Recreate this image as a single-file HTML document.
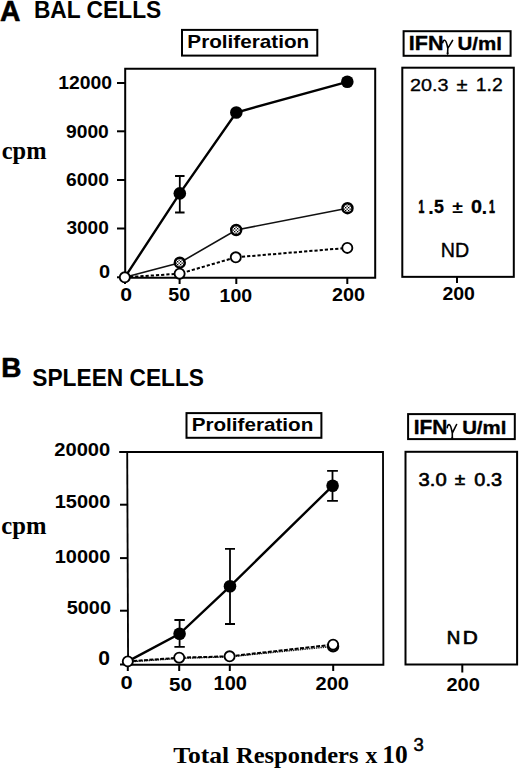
<!DOCTYPE html>
<html><head><meta charset="utf-8"><title>Figure</title>
<style>html,body{margin:0;padding:0;background:#fff;} svg{display:block;}</style>
</head><body>
<svg width="520" height="770" viewBox="0 0 520 770">
<defs><pattern id="hatch" width="3" height="3" patternUnits="userSpaceOnUse">
<rect width="3" height="3" fill="#fff"/><rect x="0" y="0" width="1.3" height="1.3" fill="#000"/><rect x="1.5" y="1.5" width="1.3" height="1.3" fill="#000"/></pattern></defs>
<rect width="520" height="770" fill="#fff"/>
<path d="M125.2,68.8 L375.2,68.8 L375.2,277.8 L125.2,277.8 Z" fill="none" stroke="#000" stroke-width="2.0"/>
<line x1="117" y1="83" x2="125.2" y2="83" stroke="#000" stroke-width="2.0"/>
<line x1="117" y1="131.3" x2="125.2" y2="131.3" stroke="#000" stroke-width="2.0"/>
<line x1="117" y1="180" x2="125.2" y2="180" stroke="#000" stroke-width="2.0"/>
<line x1="117" y1="228.5" x2="125.2" y2="228.5" stroke="#000" stroke-width="2.0"/>
<line x1="117" y1="277.3" x2="125.2" y2="277.3" stroke="#000" stroke-width="2.0"/>
<line x1="125" y1="277.8" x2="125" y2="284" stroke="#000" stroke-width="2.0"/>
<line x1="179.6" y1="277.8" x2="179.6" y2="284" stroke="#000" stroke-width="2.0"/>
<line x1="236.3" y1="277.8" x2="236.3" y2="284" stroke="#000" stroke-width="2.0"/>
<line x1="347.3" y1="277.8" x2="347.3" y2="284" stroke="#000" stroke-width="2.0"/>
<rect x="182" y="29.9" width="135.3" height="25.7" fill="none" stroke="#000" stroke-width="2.0"/>
<rect x="403.6" y="31.2" width="107" height="24.6" fill="none" stroke="#000" stroke-width="2.0"/>
<rect x="402.3" y="67.7" width="111.5" height="209.15" fill="none" stroke="#000" stroke-width="2.0"/>
<line x1="457" y1="276.9" x2="457" y2="283" stroke="#000" stroke-width="2.0"/>
<path d="M124.8,277.3 L179.8,262.7 L236.2,230 L347.5,208.2" fill="none" stroke="#111" stroke-width="1.6"/>
<path d="M124.8,277.3 L179.6,273.7 L235.8,257.3 L347.3,247.9" fill="none" stroke="#000" stroke-width="2" stroke-dasharray="3.2 2"/>
<path d="M124.8,277.3 L179.8,193.4 L236.3,112.5 L347.3,81.8" fill="none" stroke="#000" stroke-width="2.4"/>
<path d="M179.8,176 L179.8,212.5 M175.05,176 L184.55,176 M175.05,212.5 L184.55,212.5" stroke="#000" stroke-width="1.8" fill="none"/>
<circle cx="179.8" cy="262.7" r="5.0" fill="url(#hatch)" stroke="#000" stroke-width="2.4"/>
<circle cx="236.2" cy="230" r="5.0" fill="url(#hatch)" stroke="#000" stroke-width="2.4"/>
<circle cx="347.5" cy="208.2" r="5.0" fill="url(#hatch)" stroke="#000" stroke-width="2.4"/>
<circle cx="179.8" cy="193.4" r="6.3" fill="#000"/>
<circle cx="236.3" cy="112.5" r="6.3" fill="#000"/>
<circle cx="347.3" cy="81.8" r="6.3" fill="#000"/>
<circle cx="124.8" cy="277.3" r="5.05" fill="#fff" stroke="#000" stroke-width="1.85"/>
<circle cx="179.6" cy="273.7" r="5.05" fill="#fff" stroke="#000" stroke-width="1.85"/>
<circle cx="235.8" cy="257.3" r="5.05" fill="#fff" stroke="#000" stroke-width="1.85"/>
<circle cx="347.3" cy="247.9" r="5.05" fill="#fff" stroke="#000" stroke-width="1.85"/>
<path d="M119.2,452 L383,452 L383.4,664.7 L127.5,664.7" fill="none" stroke="#000" stroke-width="1.85"/>
<line x1="127.2" y1="451" x2="128.1" y2="665.6" stroke="#000" stroke-width="1.85"/>
<line x1="120" y1="504.7" x2="127.7" y2="504.7" stroke="#000" stroke-width="2.0"/>
<line x1="120" y1="558.1" x2="127.7" y2="558.1" stroke="#000" stroke-width="2.0"/>
<line x1="120" y1="610.7" x2="127.7" y2="610.7" stroke="#000" stroke-width="2.0"/>
<line x1="120" y1="664.5" x2="127.7" y2="664.5" stroke="#000" stroke-width="2.0"/>
<line x1="127.8" y1="664.8" x2="127.8" y2="671" stroke="#000" stroke-width="2.0"/>
<line x1="179.2" y1="664.8" x2="179.2" y2="671" stroke="#000" stroke-width="2.0"/>
<line x1="229.8" y1="664.8" x2="229.8" y2="671" stroke="#000" stroke-width="2.0"/>
<line x1="333.2" y1="664.8" x2="333.2" y2="671" stroke="#000" stroke-width="2.0"/>
<rect x="186.5" y="413.1" width="134.9" height="24.7" fill="none" stroke="#000" stroke-width="2.0"/>
<rect x="408.1" y="414.1" width="106.7" height="25" fill="none" stroke="#000" stroke-width="2.0"/>
<rect x="405.5" y="451.8" width="111.6" height="212.7" fill="none" stroke="#000" stroke-width="2.0"/>
<line x1="462.3" y1="663.9" x2="462.3" y2="672.5" stroke="#000" stroke-width="2.0"/>
<path d="M127.8,662.0 L179.2,658.4 L229.6,656.8 L333.1,646.4" fill="none" stroke="#222" stroke-width="1.4" stroke-dasharray="1.5 0.8"/>
<path d="M127.8,661.4 L179.2,657.7 L229.6,656.3 L333.1,644.6" fill="none" stroke="#000" stroke-width="2" stroke-dasharray="4 1.4"/>
<path d="M127.8,661.4 L179.6,633.8 L230,586.3 L332.6,485.8" fill="none" stroke="#000" stroke-width="2.4"/>
<path d="M179.6,620 L179.6,646.9 M174.4,620 L184.79999999999998,620 M174.4,646.9 L184.79999999999998,646.9" stroke="#000" stroke-width="1.8" fill="none"/>
<path d="M230,548.8 L230,624 M225.0,548.8 L235.0,548.8 M225.0,624 L235.0,624" stroke="#000" stroke-width="1.8" fill="none"/>
<path d="M332.5,470.8 L332.5,500.9 M327.1,470.8 L337.9,470.8 M327.1,500.9 L337.9,500.9" stroke="#000" stroke-width="1.8" fill="none"/>
<circle cx="333.1" cy="646.4" r="5.0" fill="url(#hatch)" stroke="#000" stroke-width="2.4"/>
<circle cx="179.6" cy="633.8" r="6.3" fill="#000"/>
<circle cx="230" cy="586.3" r="6.3" fill="#000"/>
<circle cx="332.6" cy="485.8" r="6.3" fill="#000"/>
<circle cx="127.8" cy="661.4" r="5.05" fill="#fff" stroke="#000" stroke-width="1.85"/>
<circle cx="179.2" cy="657.7" r="5.05" fill="#fff" stroke="#000" stroke-width="1.85"/>
<circle cx="229.6" cy="656.3" r="5.05" fill="#fff" stroke="#000" stroke-width="1.85"/>
<circle cx="333.1" cy="644.6" r="5.05" fill="#fff" stroke="#000" stroke-width="1.85"/>
<path d="M442.7,42.7 C442.9,41 443.8,40.2 444.7,40.3 C446,40.5 446.9,43.6 447.8,48.4 M452.6,40.4 C451.2,43 449,46.3 447.8,48.4 L447.6,53.6" fill="none" stroke="#000" stroke-width="1.6" stroke-linecap="round" stroke-linejoin="round"/>
<ellipse cx="447.6" cy="53.4" rx="0.9" ry="1.3" fill="#000"/>
<path d="M447.2,427.7 C447.4,425.6 448.3,424.5 449.2,424.6 C450.5,424.8 451.4,428 452.3,433.2 M456.6,424.5 C455.2,427.4 453.4,430.8 452.3,433.2 L452.3,438.2" fill="none" stroke="#000" stroke-width="1.6" stroke-linecap="round" stroke-linejoin="round"/>
<ellipse cx="452.3" cy="438" rx="0.9" ry="1.3" fill="#000"/>
<text transform="matrix(0.28333 0 0 0.28824 -14.117 -22.447)" x="50" y="150" font-family='"Liberation Sans", sans-serif' font-weight="bold" font-size="100" stroke="#000" stroke-width="2.10" stroke-linejoin="round">A</text>
<text transform="matrix(0.22792 0 0 0.23521 22.509 -17.717)" x="50" y="150" font-family='"Liberation Sans", sans-serif' font-weight="bold" font-size="100">BAL CELLS</text>
<text transform="matrix(0.20712 0 0 0.18243 176.994 20.753)" x="50" y="150" font-family='"Liberation Sans", sans-serif' font-weight="bold" font-size="100">Proliferation</text>
<text transform="matrix(0.21531 0 0 0.19493 398.103 20.386)" x="50" y="150" font-family='"Liberation Sans", sans-serif' font-weight="bold" font-size="100" stroke="#000" stroke-width="1.71" stroke-linejoin="round">IFN</text>
<text transform="matrix(0.20564 0 0 0.18851 447.159 21.459)" x="50" y="150" font-family='"Liberation Sans", sans-serif' font-weight="bold" font-size="100" stroke="#000" stroke-width="1.78" stroke-linejoin="round">U/ml</text>
<text transform="matrix(0.19366 0 0 0.18028 48.655 62.277)" x="50" y="150" font-family='"Liberation Sans", sans-serif' font-weight="bold" font-size="100">12000</text>
<text transform="matrix(0.19252 0 0 0.18732 56.404 109.814)" x="50" y="150" font-family='"Liberation Sans", sans-serif' font-weight="bold" font-size="100">9000</text>
<text transform="matrix(0.19252 0 0 0.19014 56.404 157.589)" x="50" y="150" font-family='"Liberation Sans", sans-serif' font-weight="bold" font-size="100">6000</text>
<text transform="matrix(0.19074 0 0 0.19014 56.881 205.389)" x="50" y="150" font-family='"Liberation Sans", sans-serif' font-weight="bold" font-size="100">3000</text>
<text transform="matrix(0.20000 0 0 0.19014 88.900 249.789)" x="50" y="150" font-family='"Liberation Sans", sans-serif' font-weight="bold" font-size="100">0</text>
<text transform="matrix(0.21277 0 0 0.18592 109.711 273.427)" x="50" y="150" font-family='"Liberation Sans", sans-serif' font-weight="bold" font-size="100">0</text>
<text transform="matrix(0.19712 0 0 0.18873 158.353 273.001)" x="50" y="150" font-family='"Liberation Sans", sans-serif' font-weight="bold" font-size="100">50</text>
<text transform="matrix(0.19554 0 0 0.18732 209.850 274.214)" x="50" y="150" font-family='"Liberation Sans", sans-serif' font-weight="bold" font-size="100">100</text>
<text transform="matrix(0.19750 0 0 0.18310 322.133 273.752)" x="50" y="150" font-family='"Liberation Sans", sans-serif' font-weight="bold" font-size="100">200</text>
<text transform="matrix(0.24413 0 0 0.25000 -10.439 121.450)" x="50" y="150" font-family='"Liberation Serif", serif' font-weight="bold" font-size="100">cpm</text>
<text transform="matrix(0.19757 0 0 0.17394 400.109 64.460)" x="50" y="150" font-family='"Liberation Sans", sans-serif' font-weight="normal" font-size="100" stroke="#000" stroke-width="1.88" stroke-linejoin="round">20.3</text>
<text transform="matrix(0.20102 0 0 0.17917 446.421 63.750)" x="50" y="150" font-family='"Liberation Sans", sans-serif' font-weight="normal" font-size="100" stroke="#000" stroke-width="1.84" stroke-linejoin="round">±</text>
<text transform="matrix(0.19405 0 0 0.17786 466.020 64.046)" x="50" y="150" font-family='"Liberation Sans", sans-serif' font-weight="normal" font-size="100" stroke="#000" stroke-width="1.88" stroke-linejoin="round">1.2</text>
<text transform="matrix(0.10426 0 0 0.18551 413.212 185.624)" x="50" y="150" font-family='"Liberation Sans", sans-serif' font-weight="bold" font-size="100" stroke="#000" stroke-width="3.45" stroke-linejoin="round">1</text>
<text transform="matrix(0.21429 0 0 0.20667 417.286 182.700)" x="50" y="150" font-family='"Liberation Sans", sans-serif' font-weight="bold" font-size="100">.</text>
<text transform="matrix(0.17800 0 0 0.18714 425.116 185.391)" x="50" y="150" font-family='"Liberation Sans", sans-serif' font-weight="bold" font-size="100" stroke="#000" stroke-width="1.64" stroke-linejoin="round">5</text>
<text transform="matrix(0.19412 0 0 0.16935 442.606 188.097)" x="50" y="150" font-family='"Liberation Sans", sans-serif' font-weight="bold" font-size="100">±</text>
<text transform="matrix(0.19787 0 0 0.18451 461.065 185.789)" x="50" y="150" font-family='"Liberation Sans", sans-serif' font-weight="bold" font-size="100" stroke="#000" stroke-width="1.57" stroke-linejoin="round">0</text>
<text transform="matrix(0.20714 0 0 0.20667 471.093 182.700)" x="50" y="150" font-family='"Liberation Sans", sans-serif' font-weight="bold" font-size="100">.</text>
<text transform="matrix(0.10638 0 0 0.18551 483.793 185.624)" x="50" y="150" font-family='"Liberation Sans", sans-serif' font-weight="bold" font-size="100" stroke="#000" stroke-width="3.43" stroke-linejoin="round">1</text>
<text transform="matrix(0.19697 0 0 0.20000 430.876 227.000)" x="50" y="150" font-family='"Liberation Sans", sans-serif' font-weight="normal" font-size="100" stroke="#000" stroke-width="2.02" stroke-linejoin="round">ND</text>
<text transform="matrix(0.19500 0 0 0.18169 432.665 272.865)" x="50" y="150" font-family='"Liberation Sans", sans-serif' font-weight="bold" font-size="100">200</text>
<text transform="matrix(0.27869 0 0 0.27536 -12.685 335.896)" x="50" y="150" font-family='"Liberation Sans", sans-serif' font-weight="bold" font-size="100" stroke="#000" stroke-width="2.17" stroke-linejoin="round">B</text>
<text transform="matrix(0.22724 0 0 0.24085 20.956 350.232)" x="50" y="150" font-family='"Liberation Sans", sans-serif' font-weight="bold" font-size="100">SPLEEN CELLS</text>
<text transform="matrix(0.20677 0 0 0.18243 181.314 404.053)" x="50" y="150" font-family='"Liberation Sans", sans-serif' font-weight="bold" font-size="100">Proliferation</text>
<text transform="matrix(0.20918 0 0 0.19493 403.252 404.386)" x="50" y="150" font-family='"Liberation Sans", sans-serif' font-weight="bold" font-size="100" stroke="#000" stroke-width="1.73" stroke-linejoin="round">IFN</text>
<text transform="matrix(0.20417 0 0 0.19122 451.942 405.151)" x="50" y="150" font-family='"Liberation Sans", sans-serif' font-weight="bold" font-size="100" stroke="#000" stroke-width="1.77" stroke-linejoin="round">U/ml</text>
<text transform="matrix(0.20148 0 0 0.17746 44.222 429.403)" x="50" y="150" font-family='"Liberation Sans", sans-serif' font-weight="bold" font-size="100">20000</text>
<text transform="matrix(0.20000 0 0 0.17746 44.700 481.603)" x="50" y="150" font-family='"Liberation Sans", sans-serif' font-weight="bold" font-size="100">15000</text>
<text transform="matrix(0.20000 0 0 0.18028 44.700 535.577)" x="50" y="150" font-family='"Liberation Sans", sans-serif' font-weight="bold" font-size="100">10000</text>
<text transform="matrix(0.19907 0 0 0.18732 56.749 585.814)" x="50" y="150" font-family='"Liberation Sans", sans-serif' font-weight="bold" font-size="100">5000</text>
<text transform="matrix(0.21064 0 0 0.19296 87.826 635.563)" x="50" y="150" font-family='"Liberation Sans", sans-serif' font-weight="bold" font-size="100">0</text>
<text transform="matrix(0.21915 0 0 0.18451 109.666 661.739)" x="50" y="150" font-family='"Liberation Sans", sans-serif' font-weight="bold" font-size="100">0</text>
<text transform="matrix(0.20577 0 0 0.18592 158.794 662.827)" x="50" y="150" font-family='"Liberation Sans", sans-serif' font-weight="bold" font-size="100">50</text>
<text transform="matrix(0.20000 0 0 0.19296 203.600 661.463)" x="50" y="150" font-family='"Liberation Sans", sans-serif' font-weight="bold" font-size="100">100</text>
<text transform="matrix(0.20000 0 0 0.19014 305.600 661.889)" x="50" y="150" font-family='"Liberation Sans", sans-serif' font-weight="bold" font-size="100">200</text>
<text transform="matrix(0.24637 0 0 0.24559 -10.958 497.404)" x="50" y="150" font-family='"Liberation Serif", serif' font-weight="bold" font-size="100">cpm</text>
<text transform="matrix(0.20191 0 0 0.17958 408.522 458.759)" x="50" y="150" font-family='"Liberation Sans", sans-serif' font-weight="normal" font-size="100" stroke="#000" stroke-width="3.41" stroke-linejoin="round">3.0</text>
<text transform="matrix(0.19082 0 0 0.17417 445.212 459.350)" x="50" y="150" font-family='"Liberation Sans", sans-serif' font-weight="normal" font-size="100" stroke="#000" stroke-width="3.56" stroke-linejoin="round">±</text>
<text transform="matrix(0.19885 0 0 0.17958 464.387 458.759)" x="50" y="150" font-family='"Liberation Sans", sans-serif' font-weight="normal" font-size="100" stroke="#000" stroke-width="3.44" stroke-linejoin="round">0.3</text>
<text transform="matrix(0.18750 0 0 0.18696 437.475 616.107)" x="50" y="150" font-family='"Liberation Sans", sans-serif' font-weight="normal" font-size="100" stroke="#000" stroke-width="3.74" stroke-linejoin="round">N</text>
<text transform="matrix(0.20847 0 0 0.18696 452.258 616.107)" x="50" y="150" font-family='"Liberation Sans", sans-serif' font-weight="normal" font-size="100" stroke="#000" stroke-width="3.54" stroke-linejoin="round">D</text>
<text transform="matrix(0.20125 0 0 0.17887 436.334 664.490)" x="50" y="150" font-family='"Liberation Sans", sans-serif' font-weight="bold" font-size="100">200</text>
<text transform="matrix(0.25581 0 0 0.23571 160.498 727.407)" x="50" y="150" font-family='"Liberation Serif", serif' font-weight="bold" font-size="100">Total</text>
<text transform="matrix(0.24496 0 0 0.23111 223.762 728.180)" x="50" y="150" font-family='"Liberation Serif", serif' font-weight="bold" font-size="100">Responders</text>
<text transform="matrix(0.23673 0 0 0.23913 353.763 727.330)" x="50" y="150" font-family='"Liberation Serif", serif' font-weight="bold" font-size="100">x</text>
<text transform="matrix(0.25455 0 0 0.24412 369.636 726.394)" x="50" y="150" font-family='"Liberation Serif", serif' font-weight="bold" font-size="100">10</text>
<text transform="matrix(0.18511 0 0 0.18169 404.354 724.115)" x="50" y="150" font-family='"Liberation Sans", sans-serif' font-weight="normal" font-size="100" stroke="#000" stroke-width="2.73" stroke-linejoin="round">3</text>
</svg>
</body></html>
